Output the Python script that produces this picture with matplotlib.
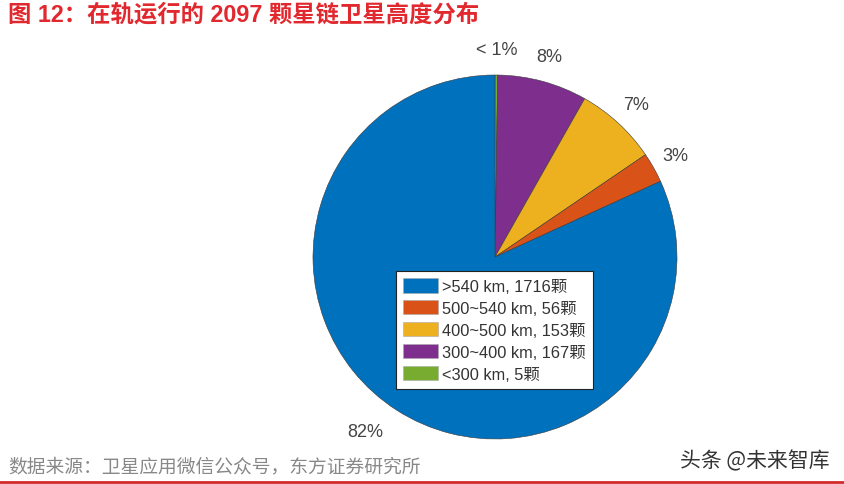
import numpy as np
import matplotlib
matplotlib.use("Agg")
import matplotlib.pyplot as plt

# ---- data ----
categories = ["<300 km, 5颗", "300~400 km, 167颗", "400~500 km, 153颗",
              "500~540 km, 56颗", ">540 km, 1716颗"]
counts = [5, 167, 153, 56, 1716]
pct_labels = ["< 1%", "8%", "7%", "3%", "82%"]
legend_order = [4, 3, 2, 1, 0]
colors = ["#77AC30", "#7E2F8E", "#EDB120", "#D95319", "#0072BD"]

title = "图 12：在轨运行的 2097 颗星链卫星高度分布"
source = "数据来源：卫星应用微信公众号，东方证券研究所"
watermark = "头条 @未来智库"

plt.rcParams['font.family'] = ['Liberation Sans', 'Noto Sans CJK SC', 'DejaVu Sans']

W, H = 845, 485
fig = plt.figure(figsize=(W / 100, H / 100), dpi=100)
fig.patch.set_facecolor("white")

cx, cy, r = 495, 258, 182
ax = fig.add_axes([(cx - r) / W, (H - cy - r) / H, 2 * r / W, 2 * r / H])
wedges, _ = ax.pie(counts, colors=colors, startangle=90, counterclock=False,
                   radius=1.0,
                   wedgeprops=dict(edgecolor="#3a3a3a", linewidth=0.4))
ax.set_xlim(-1, 1)
ax.set_ylim(-1, 1)
ax.set_aspect("equal")
ax.axis("off")

# percentage labels outside the wedges
for w, lab in zip(wedges, pct_labels):
    mid = np.deg2rad((w.theta1 + w.theta2) / 2)
    x, y = 1.14 * np.cos(mid), 1.14 * np.sin(mid)
    ha = "right" if x < -0.3 else "center"
    ax.text(x, y, lab, ha=ha, va="center", fontsize=13, color="#444444",
            clip_on=False)

# legend
handles = [wedges[i] for i in legend_order]
labels = [categories[i] for i in legend_order]
leg = fig.legend(handles, labels, loc="upper left",
                 bbox_to_anchor=(396 / W, 1 - 272 / H),
                 bbox_transform=fig.transFigure,
                 fontsize=11.8, frameon=True, fancybox=False,
                 edgecolor="#222222", framealpha=1,
                 handlelength=2.1, handleheight=0.95, handletextpad=0.25,
                 labelspacing=0.38, borderpad=0.45, borderaxespad=0)
leg.get_frame().set_linewidth(0.8)
for t in leg.get_texts():
    t.set_color("#333333")
for p in leg.get_patches():
    p.set_edgecolor("#aaaaaa")
    p.set_linewidth(0.4)

# title
fig.text(8 / W, 1 - 15 / H, title, ha="left", va="center", fontsize=16.8,
         fontweight="bold", color="#E0282E",
         family=['Liberation Sans', 'Noto Sans CJK SC'])

# source + watermark
fig.text(8 / W, 1 - 467 / H, source, ha="left", va="center", fontsize=13.5,
         color="#888888", family=['Noto Sans CJK SC', 'DejaVu Sans'])
fig.text(830 / W, 1 - 461 / H, watermark, ha="right", va="center",
         fontsize=15, color="#333333",
         family=['Noto Sans CJK SC', 'DejaVu Sans'])

# bottom red rule
fig.add_artist(plt.Line2D([0, 1], [1 - 483 / H, 1 - 483 / H],
                          transform=fig.transFigure, color="#D42A2A",
                          linewidth=2))

fig.savefig("out.png", dpi=100)
